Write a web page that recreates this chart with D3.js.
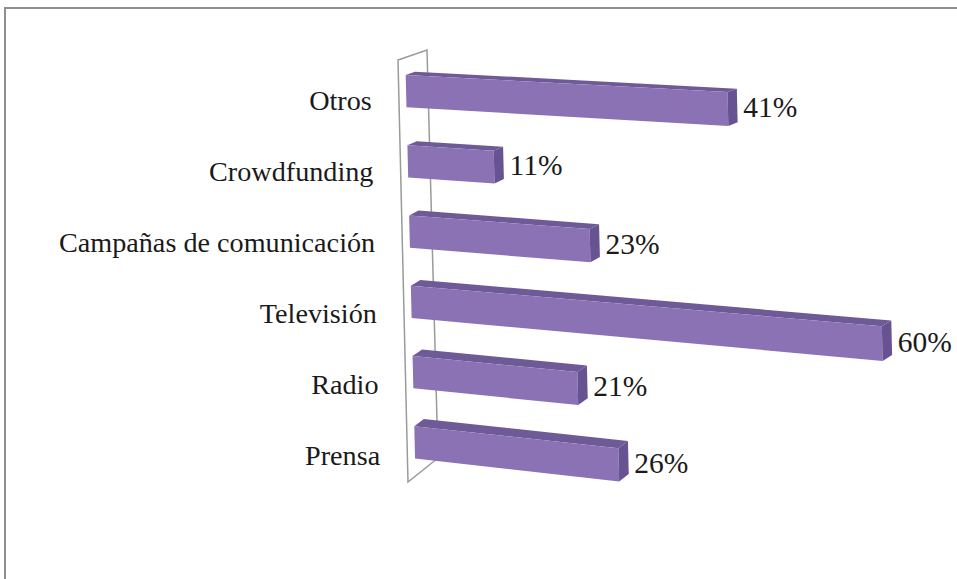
<!DOCTYPE html>
<html>
<head>
<meta charset="utf-8">
<script src="https://cdn.jsdelivr.net/npm/d3@7"></script>
<style>
  html, body { margin: 0; padding: 0; background: #fff; }
  svg { display: block; }
  text { font-family: "Liberation Serif", "Times New Roman", serif; fill: #1a1a1a; }
</style>
</head>
<body>
<svg id="chart" width="957" height="579"></svg>
<script>
// Categories, top row first
const categories = ["Otros", "Crowdfunding", "Campañas de comunicación", "Televisión", "Radio", "Prensa"];
// Share of responses, percent
const values = [41, 11, 23, 60, 21, 26];
const valueLabels = ["41%", "11%", "23%", "60%", "21%", "26%"];

const W = 957, H = 579;
const svg = d3.select("#chart");

// Frame around the chart area
svg.append("rect")
  .attr("x", 5).attr("y", 8)
  .attr("width", W + 20).attr("height", H + 20)
  .attr("fill", "none")
  .attr("stroke", "#8e8e8e")
  .attr("stroke-width", 2);

// Oblique 3D projection: r = position down the category axis (0..1),
// d = depth (0 front .. 1 back), u = length along the value axis (px).
const wallFront = [[398, 60], [408, 482]];   // front edge of the left wall
const depthVec = [[29, -10], [30, -24]];     // depth direction at top / bottom
const lerp = (a, b, t) => a + (b - a) * t;
function P(u, r, d) {
  const fx = lerp(wallFront[0][0], wallFront[1][0], r);
  const fy = lerp(wallFront[0][1], wallFront[1][1], r);
  const dx = lerp(depthVec[0][0], depthVec[1][0], r);
  const dy = lerp(depthVec[0][1], depthVec[1][1], r);
  const slope = 0.05 + 0.066 * r;              // value axis tilts down toward the viewer
  return [fx + d * dx + u, fy + d * dy + u * slope];
}

const row = d3.scaleBand()
  .domain(categories)
  .range([0, 1])
  .paddingInner(0.54)
  .paddingOuter(0.25);

const x = d3.scaleLinear().domain([0, 60]).range([0, 471]);

const d0 = 0.25, d1 = 0.57;   // bar depth span

// Left wall
const wall = [P(0, 0, 0), P(0, 0, 1), P(0, 1, 1), P(0, 1, 0)];
svg.append("path")
  .attr("d", "M" + wall.map(p => p.join(",")).join("L") + "Z")
  .attr("fill", "#fff")
  .attr("stroke", "#9a9a9a")
  .attr("stroke-width", 1.5);

const line = pts => "M" + pts.map(p => p[0].toFixed(2) + "," + p[1].toFixed(2)).join("L") + "Z";

const bars = svg.append("g").selectAll("g")
  .data(categories.map((c, i) => ({ c, v: values[i], label: valueLabels[i] })))
  .join("g");

bars.each(function (d) {
  const g = d3.select(this);
  const rt = row(d.c), rb = rt + row.bandwidth();
  const u = x(d.v);
  // top face
  g.append("path")
    .attr("d", line([P(0, rt, d0), P(u, rt, d0), P(u, rt, d1), P(0, rt, d1)]))
    .attr("fill", "#6f5a98");
  // front face
  g.append("path")
    .attr("d", line([P(0, rt, d0), P(u, rt, d0), P(u, rb, d0), P(0, rb, d0)]))
    .attr("fill", "#8b72b4");
  // right end face
  g.append("path")
    .attr("d", line([P(u, rt, d0), P(u, rt, d1), P(u, rb, d1), P(u, rb, d0)]))
    .attr("fill", "#685392");

  // value label beside the bar end
  const endBack = P(u, (rt + rb) / 2, d1);
  const endFront = P(u, (rt + rb) / 2, d0);
  g.append("text")
    .attr("x", endBack[0] + 6)
    .attr("y", endFront[1] + 8)
    .attr("font-size", 29.5)
    .text(d.label);

  // category label on the axis
  const ax = P(0, (rt + rb) / 2, 0);
  g.append("text")
    .attr("x", ax[0] - 27)
    .attr("y", ax[1] + 16.5)
    .attr("text-anchor", "end")
    .attr("font-size", 28.2)
    .text(d.c);
});
</script>
</body>
</html>
